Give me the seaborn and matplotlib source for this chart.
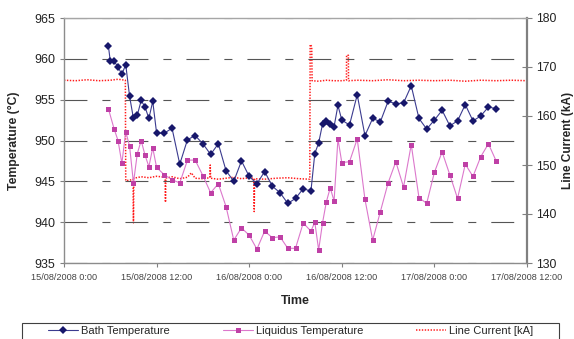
import matplotlib
matplotlib.use("Agg")
import matplotlib.pyplot as plt
import matplotlib.dates as mdates
from matplotlib.patches import Rectangle
from matplotlib.ticker import FuncFormatter, MultipleLocator
import seaborn as sns
import pandas as pd

# Hours since 15/08/2008 0:00
bath_hours = [5.75, 6.0, 6.5, 7.0, 7.5, 8.0, 8.5, 9.0, 9.5, 10.0, 10.5, 11.0, 11.5, 12.0,
              13, 14, 15, 16, 17, 18, 19, 20, 21, 22, 23, 24, 25, 26, 27, 28, 29, 30, 31, 32,
              32.5, 33.0, 33.5, 34.0, 34.5, 35.0, 35.5, 36.0,
              37, 38, 39, 40, 41, 42, 43, 44, 45, 46, 47, 48, 49, 50, 51, 52, 53, 54, 55, 56]
bath_temp = [961.6, 959.7, 959.7, 959.0, 958.1, 959.3, 955.4, 952.7, 953.1, 954.9,
             954.1, 952.7, 954.8, 950.9, 950.9, 951.5, 947.1, 950.1, 950.6, 949.6,
             948.3, 949.6, 946.3, 945.0, 947.5, 945.6, 944.7, 946.2, 944.4, 943.6,
             942.3, 942.9, 944.1, 943.8, 948.4, 949.7, 952.0, 952.4, 952.0, 951.7,
             954.3, 952.5, 951.9, 955.6, 950.6, 952.7, 952.3, 954.8, 954.5, 954.6,
             956.7, 952.7, 951.4, 952.5, 953.7, 951.8, 952.4, 954.4, 952.4, 953.0,
             954.1, 953.9]

liq_hours = [5.75, 6.5, 7.0, 7.5, 8.0, 8.5, 9.0, 9.5, 10.0, 10.5, 11.0, 11.5, 12.0,
             13, 14, 15, 16, 17, 18, 19, 20, 21, 22, 23, 24, 25, 26, 27, 28, 29, 30, 31, 32,
             32.5, 33.0, 33.5, 34.0, 34.5, 35.0, 35.5, 36.0,
             37, 38, 39, 40, 41, 42, 43, 44, 45, 46, 47, 48, 49, 50, 51, 52, 53, 54, 55, 56]
liq_temp = [953.9, 951.4, 950.0, 947.2, 951.1, 949.3, 944.8, 948.4, 950.0, 948.2,
            946.8, 949.1, 946.7, 945.8, 945.2, 944.8, 947.6, 947.6, 945.7, 943.6,
            944.7, 941.9, 937.8, 939.3, 938.4, 936.7, 938.9, 938.1, 938.2, 936.8,
            936.8, 939.9, 938.9, 940.0, 936.6, 939.9, 942.5, 944.2, 942.6, 950.2,
            947.3, 947.4, 950.2, 942.8, 937.8, 941.3, 944.8, 947.4, 944.3, 949.5,
            943.0, 942.3, 946.1, 948.6, 945.8, 942.9, 947.1, 945.6, 948.0, 949.6,
            947.5]

cur_hours = [0.0, 1.5, 3.0, 4.5, 6.0, 7.0, 7.95, 8.0, 8.5, 8.95, 9.0, 9.05, 10.0, 11.0,
             12.0, 13.1, 13.15, 13.2, 14.0, 15.0, 16.0, 16.5, 17.0, 18.0, 18.9, 18.95,
             19.0, 20.0, 21.0, 22.0, 23.0, 24.0, 24.6, 24.65, 24.7, 26.0, 27.5, 29.0,
             30.5, 31.85, 31.9, 32.1, 32.15, 33.0, 34.0, 35.0, 36.0, 36.6, 36.62, 36.85,
             36.87, 38.0, 40.0, 42.0, 44.0, 46.0, 48.0, 50.0, 52.0, 54.0, 56.0, 58.0, 60.0]
cur_ka = [167.3, 167.2, 167.4, 167.2, 167.3, 167.5, 167.3, 146.8, 146.9, 147.1, 138.2,
          147.3, 147.6, 147.4, 147.7, 147.5, 142.4, 147.3, 147.6, 147.2, 147.5, 148.4,
          147.3, 147.2, 147.4, 150.0, 147.3, 147.1, 147.3, 147.5, 147.2, 147.4, 147.3,
          140.5, 147.2, 147.1, 147.3, 147.4, 147.2, 147.1, 174.6, 174.2, 167.2, 167.1,
          167.3, 167.2, 167.2, 167.3, 172.4, 172.4, 167.2, 167.3, 167.2, 167.4, 167.2,
          167.3, 167.2, 167.3, 167.1, 167.3, 167.2, 167.3, 167.2]

start = pd.Timestamp("2008-08-15 00:00")


def to_time(hours):
    return start + pd.to_timedelta(hours, unit="h")


bath = pd.DataFrame({"time": to_time(bath_hours), "temp": bath_temp})
liq = pd.DataFrame({"time": to_time(liq_hours), "temp": liq_temp})
cur = pd.DataFrame({"time": to_time(cur_hours), "ka": cur_ka})

sns.set_style("white")
plt.rcParams["font.family"] = ["Liberation Sans", "DejaVu Sans"]
plt.rcParams["lines.scale_dashes"] = False

fig = plt.figure(figsize=(5.74, 3.39), dpi=100)
ax = fig.add_axes([64 / 574, 1 - 263 / 339, 463 / 574, 245 / 339])
ax2 = ax.twinx()

sns.lineplot(data=bath, x="time", y="temp", ax=ax, estimator=None, color="#3b3b8f",
             lw=0.8, marker="D", markersize=3.8, markerfacecolor="#17176b",
             markeredgecolor="#17176b", markeredgewidth=0, label="Bath Temperature")
sns.lineplot(data=liq, x="time", y="temp", ax=ax, estimator=None, color="#dc78cc",
             lw=0.8, marker="s", markersize=3.6, markerfacecolor="#bf40a6",
             markeredgecolor="#bf40a6", markeredgewidth=0, label="Liquidus Temperature")
sns.lineplot(data=cur, x="time", y="ka", ax=ax2, estimator=None, color="#ff1a1a",
             lw=1.1, linestyle=(0, (1.0, 1.1)), label="Line Current [kA]")
for a in (ax, ax2):
    if a.get_legend() is not None:
        a.get_legend().remove()

# Axis ranges and ticks
ax.set_ylim(935, 965)
ax.yaxis.set_major_locator(MultipleLocator(5))
ax2.set_ylim(130, 180)
ax2.yaxis.set_major_locator(MultipleLocator(10))
ax.set_xlim(start, start + pd.Timedelta(hours=60))
ax.xaxis.set_major_locator(mdates.HourLocator(byhour=[0, 12]))


def fmt_time(v, pos):
    d = mdates.num2date(v)
    return f"{d.day:02d}/{d.month:02d}/{d.year} {d.hour}:{d.minute:02d}"


ax.xaxis.set_major_formatter(FuncFormatter(fmt_time))

ax.tick_params(axis="y", direction="out", length=3, width=0.8, color="#808080",
               labelsize=9, labelcolor="#222222", pad=3.5, left=True)
ax.tick_params(axis="x", direction="out", length=3, width=0.8, color="#808080",
               labelsize=6.6, labelcolor="#444444", pad=4, bottom=True)
ax2.tick_params(axis="y", direction="inout", length=7, width=0.8, color="#808080",
                labelsize=8.8, labelcolor="#222222", pad=3, right=True)

# Gridlines: long dash, gap, short dash, gap
ax.yaxis.grid(True, color="#555555", lw=0.8, linestyle=(0, (16.5, 10.8, 5.8, 10.8)))
ax.xaxis.grid(False)
ax2.grid(False)
ax.set_axisbelow(True)
ax.set_zorder(ax2.get_zorder() + 1)
ax.patch.set_visible(False)

for side, s in ax.spines.items():
    s.set_color("#8c8c8c")
    s.set_linewidth(1.0)
ax.spines["top"].set_color("#a6a6a6")
for side, s in ax2.spines.items():
    s.set_visible(side == "right")
ax2.spines["right"].set_color("#808080")
ax2.spines["right"].set_linewidth(1.6)
ax.spines["right"].set_visible(False)

ax.set_xlabel("Time", fontsize=9, fontweight="bold")
ax.xaxis.set_label_coords(0.5, -0.13)
ax.set_ylabel("Temperature (°C)", fontsize=8.8, fontweight="bold")
ax.yaxis.set_label_coords(-0.095, 0.5)
ax2.set_ylabel("Line Current (kA)", fontsize=8.6, fontweight="bold")
ax2.yaxis.set_label_coords(1.076, 0.5)

# Legend in a box along the bottom
handles = ax.get_lines()[:2] + ax2.get_lines()[:1]
fig.legend(handles=handles, labels=[h.get_label() for h in handles],
           loc="center left", bbox_to_anchor=(48 / 574, 1 - 331 / 339), ncol=3,
           frameon=False, fontsize=8, handlelength=2.7, handletextpad=0.25,
           columnspacing=4.8, borderpad=0, borderaxespad=0)
fig.patches.append(Rectangle((22 / 574, -0.05), 537 / 574, 0.05 + 1 - 323 / 339,
                             transform=fig.transFigure, fill=False,
                             edgecolor="#404040", lw=0.8))

fig.savefig("out.png", dpi=100)
